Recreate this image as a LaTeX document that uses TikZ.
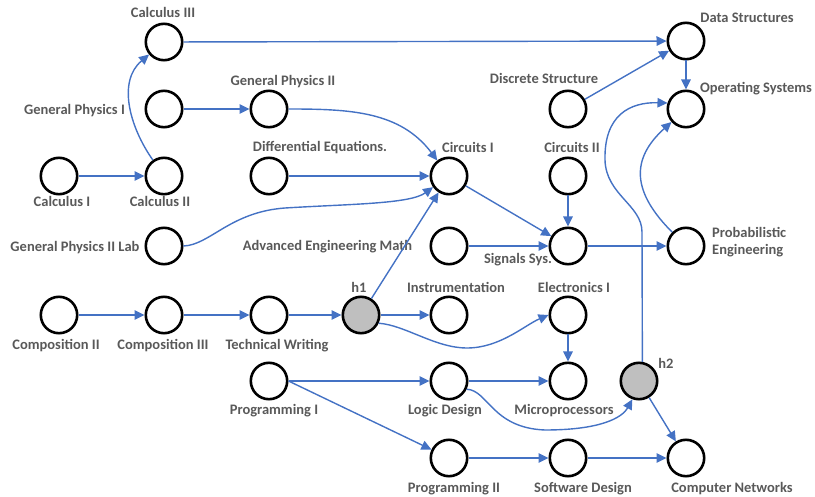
\documentclass[tikz,border=0pt]{standalone}
\usepackage{fontspec}
\setmainfont{Carlito}
\usetikzlibrary{arrows.meta}
\definecolor{edgeblue}{HTML}{4472C4}
\definecolor{labgray}{HTML}{595959}
\definecolor{hubgray}{HTML}{BFBFBF}
\begin{document}
\begin{tikzpicture}[x=1pt,y=1pt,
 course/.style={circle,draw=black,line width=2.6pt,minimum size=36.4pt,inner sep=0pt},
 hub/.style={course,fill=hubgray},
 lab/.style={font=\bfseries\fontsize{14.5}{16}\selectfont,text=labgray,inner sep=0pt,anchor=base},
 edge/.style={draw=edgeblue,line width=1.4pt,-{Triangle[length=10pt,width=9.5pt]}}]
\useasboundingbox (0,0) rectangle (815,-497);
% course nodes
\node[course] (c1) at (59,-176) {};
\node[course] (c2) at (164,-176) {};
\node[course] (c3) at (164,-42) {};
\node[course] (gp1) at (164,-109) {};
\node[course] (gp2) at (269,-109) {};
\node[course] (de) at (269,-176) {};
\node[course] (gpl) at (164,-246) {};
\node[course] (aem) at (449,-246) {};
\node[course] (ci) at (449,-176) {};
\node[course] (cii) at (568,-176) {};
\node[course] (ds) at (568,-109) {};
\node[course] (dstr) at (686,-41) {};
\node[course] (os) at (686,-109) {};
\node[course] (ss) at (568,-246) {};
\node[course] (pe) at (686,-246) {};
\node[course] (cp2) at (59,-315) {};
\node[course] (cp3) at (164,-315) {};
\node[course] (tw) at (269,-315) {};
\node[hub] (h1) at (361,-315) {};
\node[course] (ins) at (449,-315) {};
\node[course] (el) at (568,-315) {};
\node[course] (pr1) at (269,-381) {};
\node[course] (ld) at (449,-381) {};
\node[course] (mp) at (568,-381) {};
\node[hub] (h2) at (639,-381) {};
\node[course] (pr2) at (449,-458) {};
\node[course] (sd) at (568,-458) {};
\node[course] (cn) at (686,-458) {};
% labels
\node[lab] (lc3) at (163,-18) {Calculus III};
\node[lab] (lgp1) at (74.5,-115) {General Physics I};
\node[lab] (lgp2) at (283,-86) {General Physics II};
\node[lab] (lde) at (320,-152) {Differential Equations.};
\node[lab] (lc1) at (62,-207) {Calculus I};
\node[lab] (lc2) at (160,-207) {Calculus II};
\node[lab] (lgpl) at (75,-252) {General Physics II Lab};
\node[lab] (laem) at (327.5,-251) {Advanced Engineering Math};
\node[lab] (ldstr) at (747,-23) {Data Structures};
\node[lab] (lds) at (544,-84) {Discrete Structure};
\node[lab] (los) at (756,-93) {Operating Systems};
\node[lab] (lci) at (468,-153) {Circuits I};
\node[lab] (lcii) at (572,-153) {Circuits II};
\node[lab,anchor=base west] (lpe1) at (712,-238) {Probabilistic};
\node[lab,anchor=base west] (lpe2) at (712,-255) {Engineering};
\node[lab] (lss) at (518,-264) {Signals Sys.};
\node[lab] (lins) at (456,-293) {Instrumentation};
\node[lab] (lel) at (574,-293) {Electronics I};
\node[lab] (lh1) at (359,-293) {h1};
\node[lab] (lcp2) at (56,-350) {Composition II};
\node[lab] (lcp3) at (163,-350) {Composition III};
\node[lab] (ltw) at (277,-350) {Technical Writing};
\node[lab] (lpr1) at (274,-415) {Programming I};
\node[lab] (lh2) at (666,-369) {h2};
\node[lab] (lld) at (445,-414) {Logic Design};
\node[lab] (lmp) at (564,-414) {Microprocessors};
\node[lab] (lpr2) at (454,-492) {Programming II};
\node[lab] (lsd) at (583,-492) {Software Design};
\node[lab] (lcn) at (732,-492) {Computer Networks};
% edges
\draw[edge] (c1) -- (c2);
\draw[edge] (c2) to[out=125,in=-140] (c3);
\draw[edge] (c3) -- (dstr);
\draw[edge] (gp1) -- (gp2);
\draw[edge] (gp2) to[out=0,in=127] (ci);
\draw[edge] (de) -- (ci);
\draw[edge] (gpl.east) .. controls (210,-245) and (230,-212) .. (285,-208) .. controls (350,-204) and (410,-204) .. (ci.215);
\draw[edge] (h1) -- (ci);
\draw[edge] (ci) -- (ss);
\draw[edge] (cii) -- (ss);
\draw[edge] (aem) -- (ss);
\draw[edge] (ss) -- (pe);
\draw[edge] (ds) -- (dstr);
\draw[edge] (dstr) -- (os);
\draw[edge] (pe) to[out=135,in=-138,looseness=1.3] (os);
\draw[edge] (h2.80) -- (642,-232) .. controls (642,-205) and (606,-195) .. (605,-160) .. controls (604,-115) and (630,-102) .. (os.162);
\draw[edge] (cp2) -- (cp3);
\draw[edge] (cp3) -- (tw);
\draw[edge] (tw) -- (h1);
\draw[edge] (h1) -- (ins);
\draw[edge] (h1.-25) .. controls (405,-325) and (435,-348) .. (467,-348) .. controls (500,-348) and (525,-325) .. (el.west);
\draw[edge] (el) -- (mp);
\draw[edge] (pr1) -- (ld);
\draw[edge] (pr1.east) -- (pr2);
\draw[edge] (ld) -- (mp);
\draw[edge] (ld.-25) .. controls (488,-390) and (492,-428) .. (545,-430) .. controls (600,-430) and (622,-418) .. (h2.250);
\draw[edge] (pr2) -- (sd);
\draw[edge] (sd) -- (cn);
\draw[edge] (h2) -- (cn);
\end{tikzpicture}
\end{document}
